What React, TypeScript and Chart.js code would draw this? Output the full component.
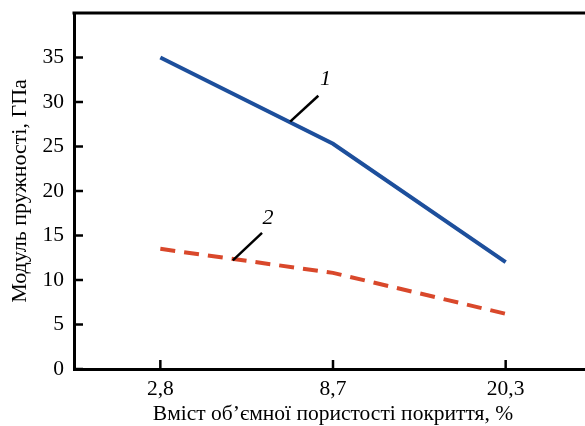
import React, { useEffect, useRef } from "react";
import { Chart, registerables } from "chart.js";

Chart.register(...registerables);

const categories = ["2,8", "8,7", "20,3"];
const series1 = [35, 25.3, 12];
const series2 = [13.5, 10.8, 6.2];
const yTickValues = [0, 5, 10, 15, 20, 25, 30, 35];
const yTitle = "Модуль пружності, ГПа";
const xTitle = "Вміст об’ємної пористості покриття, %";

// annotation leader lines in data space: [categoryIndex, value]
const label1Line = [[0.752, 27.8], [0.915, 30.7]];
const label1Pos = [0.956, 32.6];
const label2Line = [[0.42, 12.2], [0.589, 15.3]];
const label2Pos = [0.624, 16.9];

const FONT = "'Liberation Serif', 'Times New Roman', serif";

const decorPlugin = {
  id: "decor",
  afterDraw(chart: any) {
    const { ctx, chartArea, scales } = chart;
    const xs = scales.x;
    const ys = scales.y;
    const px = (i: number) => {
      const p0 = xs.getPixelForValue(0);
      const p1 = xs.getPixelForValue(1);
      return p0 + i * (p1 - p0);
    };
    const py = (v: number) => ys.getPixelForValue(v);
    ctx.save();
    ctx.strokeStyle = "#000";
    ctx.lineWidth = 3;
    // top border
    ctx.beginPath();
    ctx.moveTo(chartArea.left - 1.5, chartArea.top);
    ctx.lineTo(chart.width, chartArea.top);
    ctx.stroke();
    // inward ticks
    ctx.lineWidth = 2.5;
    yTickValues.forEach((v) => {
      const y = py(v);
      ctx.beginPath();
      ctx.moveTo(chartArea.left, y);
      ctx.lineTo(chartArea.left + 9, y);
      ctx.stroke();
    });
    categories.forEach((_, i) => {
      const x = xs.getPixelForValue(i);
      ctx.beginPath();
      ctx.moveTo(x, chartArea.bottom);
      ctx.lineTo(x, chartArea.bottom - 9);
      ctx.stroke();
    });
    // leader lines
    ctx.lineWidth = 2.5;
    [label1Line, label2Line].forEach((ln) => {
      ctx.beginPath();
      ctx.moveTo(px(ln[0][0]), py(ln[0][1]));
      ctx.lineTo(px(ln[1][0]), py(ln[1][1]));
      ctx.stroke();
    });
    ctx.fillStyle = "#000";
    ctx.font = `italic 22px ${FONT}`;
    ctx.textAlign = "center";
    ctx.textBaseline = "middle";
    ctx.fillText("1", px(label1Pos[0]), py(label1Pos[1]));
    ctx.fillText("2", px(label2Pos[0]), py(label2Pos[1]));
    ctx.restore();
  },
};

export default function App() {
  const ref = useRef<HTMLCanvasElement | null>(null);
  useEffect(() => {
    if (!ref.current) return;
    const chart = new Chart(ref.current, {
      type: "line",
      data: {
        labels: categories,
        datasets: [
          {
            data: series1,
            borderColor: "#1d4f9c",
            borderWidth: 4,
            pointRadius: 0,
            tension: 0,
          },
          {
            data: series2,
            borderColor: "#d9482b",
            borderWidth: 4,
            borderDash: [15, 9],
            pointRadius: 0,
            tension: 0,
          },
        ],
      },
      options: {
        animation: false,
        responsive: false,
        devicePixelRatio: 1,
        layout: { padding: { left: 0, top: 13, right: 18, bottom: 0 } },
        plugins: { legend: { display: false }, tooltip: { enabled: false } },
        scales: {
          x: {
            offset: true,
            grid: { display: false, drawTicks: false },
            border: { display: true, color: "#000", width: 3 },
            ticks: { color: "#000", font: { family: FONT, size: 21.5 }, padding: 7, maxRotation: 0 },
            title: {
              display: true,
              text: xTitle,
              color: "#000",
              font: { family: FONT, size: 21.5 },
              padding: { top: 0, bottom: -1 },
            },
            afterFit(scale: any) {
              scale.height = 57;
              scale.paddingLeft = 0;
              scale.paddingRight = 0;
            },
          },
          y: {
            min: 0,
            max: 40,
            grid: { display: false, drawTicks: false },
            border: { display: true, color: "#000", width: 3 },
            ticks: {
              stepSize: 5,
              color: "#000",
              font: { family: FONT, size: 21.5 },
              padding: 10,
              callback: (v: any) => (v === 40 ? "" : String(v)),
            },
            title: {
              display: true,
              text: yTitle,
              color: "#000",
              font: { family: FONT, size: 22 },
              padding: { top: 7, bottom: 0 },
            },
            afterFit(scale: any) {
              scale.width = 74;
              scale.paddingTop = 0;
              scale.paddingBottom = 0;
            },
          },
        },
      },
      plugins: [decorPlugin],
    });
    return () => chart.destroy();
  }, []);
  return (
    <div style={{ position: "absolute", left: 0, top: 0, width: 585, height: 426, overflow: "hidden", background: "#fff" }}>
      <canvas ref={ref} width={610} height={426} style={{ width: 610, height: 426, display: "block" }} />
    </div>
  );
}
